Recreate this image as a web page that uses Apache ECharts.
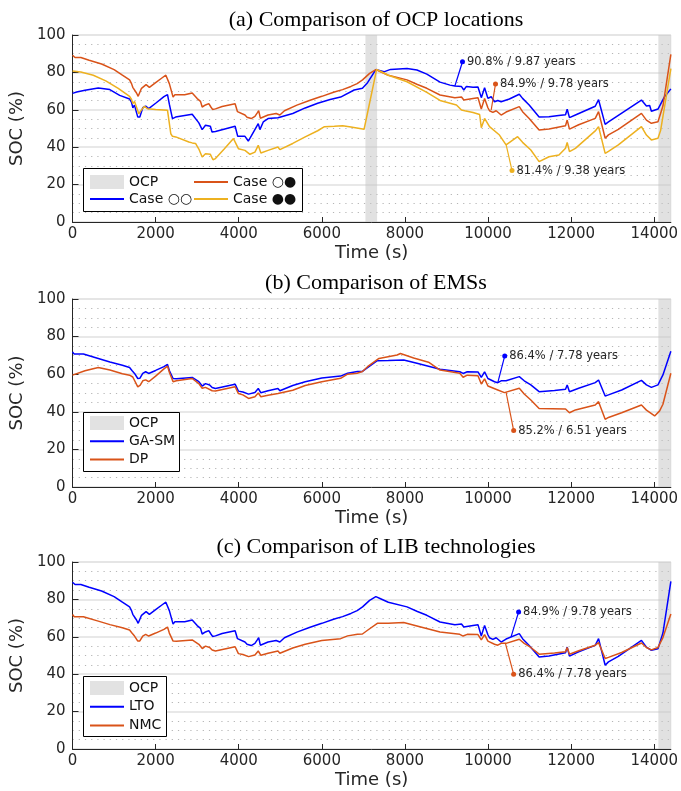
<!DOCTYPE html>
<html>
<head>
<meta charset="utf-8">
<script src="https://cdn.jsdelivr.net/npm/echarts@6/dist/echarts.min.js"></script>
<style>
html, body { margin: 0; background: #fff; }
#main { width: 681px; height: 791px; }
</style>
</head>
<body>
<div id="main"></div>
<script>
// SOC (%) against time (s)
const xTicks = [0, 2000, 4000, 6000, 8000, 10000, 12000, 14000]
const yTicks = [0, 20, 40, 60, 80, 100]
const timeEnd = 14400

// OCP windows [start, end] in s
const ocpA = [[7050, 7330], [14100, 14400]]
const ocpB = [[14100, 14400]]
const ocpC = [[14100, 14400]]

// Case ○● (same curve is LTO in panel c)
const caseOF = [[0,89.2],[60,88.0],[200,88.0],[400,86.5],[700,84.5],[1000,81.5],[1200,78.5],[1373,76.0],[1420,74],[1450,72],[1490,72.5],[1540,69],[1580,67.2],[1620,67.5],[1660,71.5],[1700,70.8],[1770,73.5],[1850,72],[2000,74.5],[2150,77],[2246,78.5],[2290,79.5],[2330,74],[2380,70],[2420,66.8],[2460,68],[2700,68],[2880,69],[2920,68.5],[3000,66],[3080,64.5],[3120,61.5],[3200,62.6],[3280,63.3],[3330,61.5],[3370,60.2],[3440,60.5],[3600,61.8],[3913,63.2],[3970,59],[4000,58],[4150,57.2],[4200,56],[4236,55],[4300,55.3],[4390,56.5],[4450,58.5],[4480,59.6],[4520,55.5],[4560,56],[4706,57.2],[4900,58],[4944,58.2],[4990,57.2],[5100,59.5],[5400,62.5],[5700,65],[6000,67.2],[6300,69.5],[6500,70.8],[6700,72.5],[6850,74],[6980,76],[7150,79.5],[7300,81.5],[7400,80.5],[7600,78.5],[8050,76],[8300,73.5],[8527,71.5],[8845,67.9],[9202,66.5],[9361,66.8],[9417,65.2],[9639,66.1],[9758,66.5],[9838,60.4],[9917,66.1],[9997,61.1],[10036,59.5],[10116,58.6],[10196,59.5],[10315,57.2],[10434,58.8],[10752,61.7],[10831,59],[10990,55.4],[11229,49.2],[11467,49.7],[11865,51.5],[11905,54.5],[11960,49.7],[12182,52],[12580,55.4],[12660,59],[12819,44.8],[12898,46.6],[13136,49.5],[13692,58.1],[13812,54.5],[13860,55],[13931,52.8],[14090,53.6],[14209,62],[14400,89.6]]

// Case ○○
const caseOO = [[0,68.8],[100,69.5],[300,70.5],[619,71.7],[897,70.8],[1135,67.7],[1373,65.8],[1420,64],[1452,61.1],[1492,62.5],[1540,58.5],[1571,56.1],[1620,56.2],[1690,61.1],[1760,62],[1833,60.6],[2000,63.5],[2200,67],[2286,68.1],[2330,63],[2405,55.3],[2480,56.1],[2880,57.6],[2920,57],[3040,53],[3120,49.4],[3200,51.7],[3317,51.2],[3357,48.1],[3440,48.4],[3913,51.2],[3976,45.8],[4150,45.8],[4230,43.3],[4310,46.3],[4470,52.6],[4510,49.4],[4590,53.5],[4706,55.3],[4944,55.8],[4990,54.9],[5300,58],[5600,61],[5900,63.5],[6200,65.5],[6452,66.8],[6778,70.6],[6977,71.5],[7100,74.5],[7300,81.5],[7335,81.3],[7494,80.3],[7653,81.6],[8050,82.1],[8289,81.3],[8527,79.1],[8845,74.8],[9084,73.2],[9202,72.7],[9361,72.4],[9417,70.6],[9480,72.5],[9639,72],[9758,72.2],[9838,66.5],[9917,71.8],[9997,66.1],[10076,67],[10156,64.3],[10235,65],[10315,64.3],[10513,65.8],[10752,68.3],[10831,66.1],[10990,62.6],[11229,56.1],[11467,56.3],[11700,57],[11865,57.4],[11905,60.3],[11960,55.8],[12103,57.2],[12580,61.9],[12660,65.4],[12819,52.2],[12898,53.5],[13136,57],[13692,65.2],[13812,62],[13860,61.2],[13890,62.3],[13931,59.2],[14090,60.4],[14249,67],[14400,71.2]]

// Case ●●
const caseFF = [[0,80.7],[200,80.2],[500,78.5],[800,75.5],[1100,71.5],[1373,67.2],[1420,65.5],[1452,63.3],[1492,64.5],[1595,57.9],[1650,59.7],[1730,61.9],[1800,60.6],[2000,60.1],[2286,59.7],[2365,47.2],[2405,45.8],[2484,45.5],[2800,42.8],[2880,42.3],[2960,42],[3040,39],[3120,34.8],[3200,36.5],[3317,36.2],[3380,33.3],[3440,33.9],[3650,39],[3873,44.6],[3913,45.1],[3992,39.2],[4150,38.3],[4270,36.2],[4390,37.4],[4470,41],[4533,36.9],[4706,38.3],[4944,40.1],[4990,38.7],[5300,42],[5600,45.5],[5900,48.8],[6063,51],[6300,51.2],[6500,51.5],[6700,50.8],[7017,49.6],[7319,81.6],[7335,81.3],[7600,78.5],[8050,75],[8527,69.3],[8845,65],[9240,62.6],[9361,59.9],[9440,59.5],[9639,58.6],[9798,57.5],[9838,50.4],[9917,55.4],[10036,51],[10275,46.5],[10434,41.2],[10712,45.6],[10831,42.6],[11030,38.5],[11229,32.3],[11467,34.9],[11706,35.8],[11865,39.4],[11905,42.6],[11960,37.6],[12103,39.4],[12580,48.7],[12660,51],[12819,36.7],[12898,37.8],[13136,41.2],[13692,51],[13812,46.5],[13860,47.5],[13931,43.9],[14090,44.8],[14154,49],[14400,82]]

// GA-SM (same curve is NMC in panel c)
const gaSm = [[0,71.9],[40,70.7],[262,70.7],[600,68.5],[900,66.5],[1200,64.8],[1373,63.6],[1430,62],[1492,60.4],[1571,57.7],[1620,57.8],[1690,60.4],[1760,61.3],[1833,60.4],[2000,62],[2200,64],[2286,65.2],[2330,62],[2420,57.7],[2500,57.6],[2880,58.3],[2925,57.8],[3040,56],[3123,53.7],[3200,55],[3300,54.3],[3361,52.9],[3440,52.4],[3913,54.7],[3992,51],[4100,50.5],[4236,49.4],[4390,50.3],[4470,52.4],[4533,50.1],[4706,51.2],[4944,52.4],[4990,51.2],[5300,54],[5600,56],[6000,58],[6452,59],[6620,60.5],[6858,61.4],[6977,61.5],[7100,63.5],[7335,67.2],[7600,67.3],[7971,67.6],[8289,65.8],[8845,62.6],[9320,61.3],[9400,60.4],[9500,61.3],[9758,61.2],[9838,58.3],[9917,61.2],[9997,57.7],[10156,56],[10235,55.5],[10315,56.5],[10434,56.5],[10752,58.7],[10871,56.5],[11030,54.3],[11229,50.7],[11600,51.3],[11865,52],[11905,54.3],[11960,50.7],[12182,52.5],[12580,55.5],[12660,56.9],[12819,48.4],[12898,49],[13216,51.6],[13692,56.7],[13812,54.3],[13931,53],[14090,54.3],[14209,59.6],[14400,72.2]]

// DP
const dp = [[0,59.5],[300,61.8],[619,63.6],[900,62.2],[1200,60.2],[1373,59.5],[1450,58.5],[1492,58.8],[1571,53.3],[1630,54.2],[1690,56.5],[1760,57],[1833,56],[2000,59],[2200,62.8],[2286,64.3],[2330,61],[2420,56],[2500,56.5],[2880,57.7],[2925,57],[3040,55],[3120,52.5],[3200,53],[3361,51.2],[3440,51.1],[3913,53.3],[3992,49.7],[4100,49],[4236,47.1],[4390,48],[4470,50],[4533,48],[4706,48.8],[4944,49.7],[4990,48.8],[5300,51.5],[5600,54],[6000,56],[6452,57.8],[6620,60],[6850,60.5],[6977,61.4],[7100,64],[7375,68.4],[7812,70.2],[7892,71],[8210,68.6],[8568,66.4],[8845,62.2],[9320,60.5],[9400,58.4],[9500,59.5],[9758,59.2],[9838,54.8],[9917,57.5],[9997,53.7],[10235,51.6],[10394,50.2],[10752,52.5],[10871,49.5],[11030,46.3],[11229,41.8],[11865,41.5],[11960,39.5],[12103,41],[12580,43.6],[12660,45.4],[12819,36],[12898,37],[13216,39.5],[13692,43.6],[13812,40.9],[14010,37.8],[14130,40.5],[14209,44],[14400,60.5]]

// callouts: [x from, y from, x to, y to, text]
const noteOO = [9202, 72.7, 9385, 85.7, '90.8% / 9.87 years']
const noteOF = [10076, 59.9, 10180, 73.8, '84.9% / 9.78 years']
const noteFF = [10434, 41.5, 10577, 27.5, '81.4% / 9.38 years']
const noteGaSm = [10235, 55.5, 10402, 69.7, '86.4% / 7.78 years']
const noteDp = [10434, 50.4, 10617, 30, '85.2% / 6.51 years']
const noteLto = [10554, 60, 10736, 73.3, '84.9% / 9.78 years']
const noteNmc = [10418, 56.5, 10616, 40, '86.4% / 7.78 years']

const blue = '#0000ff', orange = '#d95319', yellow = '#edb120'
const ink = '#262626'
const sans = 'DejaVu Sans'

const panels = [
    {
        title: '(a) Comparison of OCP locations', titleTop: 4, top: 35, height: 187, ocp: ocpA,
        lines: [['Case ○○', caseOO, blue, noteOO], ['Case ○●', caseOF, orange, noteOF], ['Case ●●', caseFF, yellow, noteFF]],
        legendCols: [[89, ['OCP', 'Case ○○']], [193, ['Case ○●', 'Case ●●']]],
        legendTop: 175, legendGap: 3, box: [83, 168, 219, 43]
    },
    {
        title: '(b) Comparison of EMSs', titleTop: 267, top: 299, height: 188, ocp: ocpB,
        lines: [['GA-SM', gaSm, blue, noteGaSm], ['DP', dp, orange, noteDp]],
        legendCols: [[89, ['OCP', 'GA-SM', 'DP']]],
        legendTop: 416, legendGap: 4.3, box: [83, 412, 96, 59]
    },
    {
        title: '(c) Comparison of LIB technologies', titleTop: 531, top: 562, height: 187, ocp: ocpC,
        lines: [['LTO', caseOF, blue, noteLto], ['NMC', gaSm, orange, noteNmc]],
        legendCols: [[89, ['OCP', 'LTO', 'NMC']]],
        legendTop: 681, legendGap: 4.7, box: [83, 676, 83, 60]
    }
]

const option = {
    animation: false,
    backgroundColor: '#fff',
    title: [], grid: [], xAxis: [], yAxis: [], legend: [], series: [],
    graphic: []
}

panels.forEach((p, i) => {
    option.title.push({
        text: p.title, left: 371, top: p.titleTop, textAlign: 'center',
        textStyle: { fontFamily: 'Liberation Serif', fontSize: 22, fontWeight: 'normal', color: '#000' }
    })
    option.grid.push({
        left: 69, top: p.top, width: 604, height: p.height,
        show: true, borderColor: '#e6e6e6', borderWidth: 1, backgroundColor: 'transparent'
    })
    option.xAxis.push({
        gridIndex: i, type: 'value', min: xTicks[0], max: timeEnd, interval: xTicks[1] - xTicks[0],
        name: 'Time (s)', nameLocation: 'middle', nameGap: 22,
        nameTextStyle: { fontFamily: sans, fontSize: 18, color: ink },
        axisLine: { onZero: false, lineStyle: { color: ink, width: 1 } },
        axisTick: { inside: true, length: 5, lineStyle: { color: ink } },
        axisLabel: {
            fontFamily: sans, fontSize: 15, color: ink, margin: 5, showMaxLabel: false,
            formatter: v => String(v)
        },
        splitLine: { show: false }
    })
    option.yAxis.push({
        gridIndex: i, type: 'value', min: yTicks[0], max: yTicks[yTicks.length - 1], interval: yTicks[1] - yTicks[0],
        name: 'SOC (%)', nameLocation: 'middle', nameGap: 40,
        nameTextStyle: { fontFamily: sans, fontSize: 18, color: ink },
        axisLine: { show: true, onZero: false, lineStyle: { color: ink, width: 1 } },
        axisTick: { show: true, inside: true, length: 6, lineStyle: { color: ink } },
        axisLabel: { fontFamily: sans, fontSize: 15, color: ink, margin: 7 },
        splitLine: { show: true, lineStyle: { color: '#e0e0e0', width: 1.5 } },
        minorTick: { show: false, splitNumber: 4 },
        minorSplitLine: { show: true, lineStyle: { color: '#b5b5b5', width: 1, type: [1.2, 5] } }
    })

    // OCP shading
    option.series.push({
        type: 'line', name: 'OCP', xAxisIndex: i, yAxisIndex: i, data: [], z: 1,
        itemStyle: { color: '#e2e2e2' },
        markArea: {
            silent: true,
            itemStyle: { color: '#c4c4c4', opacity: 0.5 },
            data: p.ocp.map(w => [{ xAxis: w[0] }, { xAxis: w[1] }])
        }
    })

    p.lines.forEach(([name, data, color, note]) => {
        option.series.push({
            type: 'line', name: name, xAxisIndex: i, yAxisIndex: i, data: data,
            symbol: 'none', z: 3, color: color,
            lineStyle: { color: color, width: 1.5 }
        })
        option.series.push({
            type: 'line', name: name + ' note', xAxisIndex: i, yAxisIndex: i, z: 4, silent: true,
            color: color, symbol: 'none', showSymbol: true,
            lineStyle: { color: color, width: 1.2 },
            data: [
                [note[0], note[1]],
                {
                    value: [note[2], note[3]], symbol: 'circle', symbolSize: 5,
                    label: {
                        show: true, position: 'right', distance: 2, formatter: note[4],
                        fontFamily: sans, fontSize: 11.5, color: ink
                    }
                }
            ]
        })
    })

    option.graphic.push({
        type: 'rect', z: 5,
        shape: { x: p.box[0] + 0.5, y: p.box[1] + 0.5, width: p.box[2], height: p.box[3] },
        style: { fill: '#fff', stroke: '#000', lineWidth: 1 }
    })

    p.legendCols.forEach(([left, names]) => {
        option.legend.push({
            left: left, top: p.legendTop, orient: 'vertical', padding: 0, z: 6,
            itemGap: p.legendGap, itemWidth: 34, itemHeight: 14,
            textStyle: { fontFamily: sans, fontSize: 14, lineHeight: 14, color: '#111' },
            selectedMode: false,
            data: names.map(n => n === 'OCP'
                ? { name: n, icon: 'rect', itemStyle: { color: '#e2e2e2', opacity: 1 } }
                : { name: n, itemStyle: { opacity: 0 } })
        })
    })
})

const chart = echarts.init(document.getElementById('main'), null, { renderer: 'canvas' })
chart.setOption(option)
</script>
</body>
</html>
